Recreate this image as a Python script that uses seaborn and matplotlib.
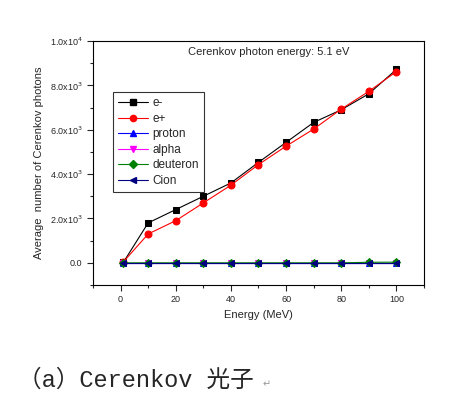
import pandas as pd
import seaborn as sns
import matplotlib
matplotlib.use("Agg")
from matplotlib import pyplot as plt
from matplotlib.lines import Line2D
from matplotlib.ticker import MultipleLocator, FuncFormatter

energy = [1, 10, 20, 30, 40, 50, 60, 70, 80, 90, 100]
e_minus = [20, 1800, 2400, 3000, 3600, 4530, 5430, 6330, 6900, 7620, 8720]
e_plus = [40, 1300, 1900, 2700, 3500, 4430, 5260, 6030, 6930, 7730, 8620]
proton = [0, 0, 0, 0, 0, 0, 0, 0, 0, 0, 0]
alpha = [0, 0, 0, 0, 0, 0, 0, 0, 0, 0, 0]
deuteron = [0, 0, 0, 0, 0, 0, 0, 0, 0, 25, 30]
cion = [0, 0, 0, 0, 0, 0, 0, 0, 0, 0, 0]

names = ["e-", "e+", "proton", "alpha", "deuteron", "Cion"]
colors = ["#000000", "#ff0000", "#0000ff", "#ff00ff", "#008000", "#000080"]
markers = ["s", "o", "^", "v", "D", "<"]

series = [e_minus, e_plus, proton, alpha, deuteron, cion]
rows = []
for name, vals in zip(names, series):
    for x, y in zip(energy, vals):
        rows.append({"energy": x, "count": y, "particle": name})
df = pd.DataFrame(rows)

sns.set_style("ticks")
plt.rcParams['font.family'] = ['Liberation Sans', 'DejaVu Sans']

fig = plt.figure(figsize=(4.61, 3.99), dpi=100)
ax = fig.add_axes([0.2017, 0.2857, 0.718, 0.6115])

sns.lineplot(data=df, x="energy", y="count", hue="particle", style="particle",
             hue_order=names, style_order=names,
             palette=dict(zip(names, colors)), markers=dict(zip(names, markers)),
             dashes=False, linewidth=0.8, markersize=5, ax=ax, legend=False)

# seaborn draws white marker edges; use the line colour instead
for ln in ax.lines:
    ln.set_markeredgecolor(ln.get_color())
    if ln.get_marker() == "D":
        ln.set_markersize(4)

ax.set_xlim(-10, 110)
ax.set_ylim(-1000, 10000)
ax.xaxis.set_major_locator(MultipleLocator(20))
ax.xaxis.set_minor_locator(MultipleLocator(10))
ax.yaxis.set_major_locator(MultipleLocator(2000))
ax.yaxis.set_minor_locator(MultipleLocator(1000))


def yfmt(v, pos):
    if abs(v) < 1e-9:
        return "0.0"
    exp = 4 if v >= 10000 else 3
    return r"%.1fx10$^{%d}$" % (v / 10 ** exp, exp)


ax.yaxis.set_major_formatter(FuncFormatter(yfmt))
ax.tick_params(which="major", direction="out", length=4, width=0.8, labelsize=6.5,
               top=False, right=False)
ax.tick_params(which="minor", direction="out", length=2.5, width=0.8,
               top=False, right=False)
for s in ax.spines.values():
    s.set_visible(True)
    s.set_linewidth(0.8)
    s.set_color("black")

ax.set_xlabel("Energy (MeV)", fontsize=8, labelpad=4)
ax.set_ylabel("Average  number of Cerenkov photons", fontsize=8, labelpad=4)
ax.text(0.53, 0.955, "Cerenkov photon energy: 5.1 eV", transform=ax.transAxes,
        ha="center", va="center", fontsize=8)

handles = [Line2D([], [], color=c, marker=m, markersize=4 if m == "D" else 4.5,
                  linewidth=0.8, markeredgecolor=c)
           for c, m in zip(colors, markers)]
leg = ax.legend(handles, names, loc="upper left", bbox_to_anchor=(0.06, 0.791),
                borderaxespad=0, fontsize=8.5, frameon=True, fancybox=False,
                handlelength=2.5, handletextpad=0.4, labelspacing=0.3,
                borderpad=0.45)
leg.get_frame().set_edgecolor("black")
leg.get_frame().set_linewidth(0.8)

fig.text(0.04, 0.03, "（a）Cerenkov 光子", fontsize=17,
         family=['Liberation Mono', 'Noto Sans CJK SC', 'DejaVu Sans'])
fig.text(0.57, 0.03, "↵", fontsize=7, color="#999999", family=['DejaVu Sans'])

fig.savefig("out.png", dpi=100)
